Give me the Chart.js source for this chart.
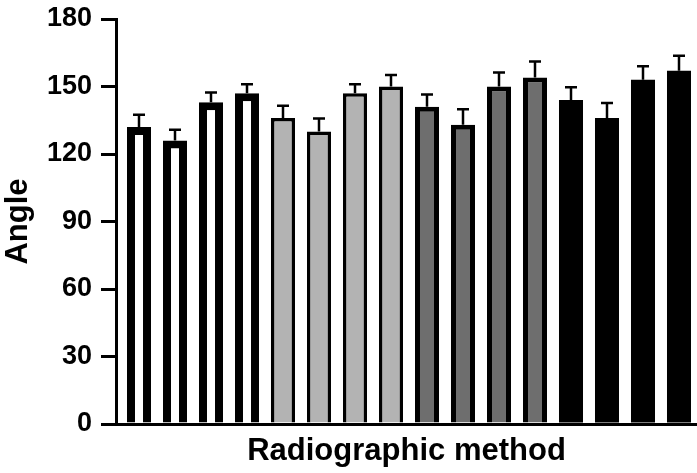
<!DOCTYPE html>
<html>
<head>
<meta charset="utf-8">
<script src="https://cdn.jsdelivr.net/npm/chart.js@4"></script>
<style>
  body { margin: 0; background: #fff; }
  #wrap { width: 697px; height: 473px; }
</style>
</head>
<body>
<div id="wrap"><canvas id="angleChart" width="697" height="473"></canvas></div>
<script>
// data
const methods = ["W1", "W2", "W3", "W4", "L1", "L2", "L3", "L4", "D1", "D2", "D3", "D4", "B1", "B2", "B3", "B4"];
const angleMeans = [132, 126, 143, 147, 136, 130, 147, 150, 141, 133, 150, 154, 144, 136, 153, 157];
const angleErrors = [5.5, 4.8, 4.3, 4, 5.5, 5.8, 4, 5.1, 5.5, 6.9, 6.2, 7.1, 5.7, 6.7, 6, 6.7];
const yTicks = [0, 30, 60, 90, 120, 150, 180];

// 4 groups of 4 bars
const groupFill = ["#ffffff", "#b3b3b3", "#6e6e6e", "#000000"];
const groupBorderW = [8, 3.5, 5, 0];

const font = "'Liberation Sans', Arial, Helvetica, sans-serif";

// upper error whiskers
const errorBars = {
  id: "errorBars",
  afterDatasetsDraw(chart) {
    const ctx = chart.ctx;
    const yScale = chart.scales.y;
    const meta = chart.getDatasetMeta(0);
    ctx.save();
    ctx.strokeStyle = "#000";
    ctx.lineWidth = 2.5;
    meta.data.forEach((bar, i) => {
      const yTop = yScale.getPixelForValue(angleMeans[i]);
      const yCap = yScale.getPixelForValue(angleMeans[i] + angleErrors[i]);
      ctx.beginPath();
      ctx.moveTo(bar.x, yTop);
      ctx.lineTo(bar.x, yCap);
      ctx.moveTo(bar.x - 6, yCap);
      ctx.lineTo(bar.x + 6, yCap);
      ctx.stroke();
    });
    ctx.restore();
  }
};

const ctx = document.getElementById("angleChart").getContext("2d");
new Chart(ctx, {
  type: "bar",
  data: {
    labels: methods,
    datasets: [
      {
        label: "Angle",
        data: angleMeans.map((v, i) => ({ x: i, y: v })),
        backgroundColor: methods.map((m, i) => groupFill[Math.floor(i / 4)]),
        borderColor: "#000",
        borderWidth: methods.map((m, i) => groupBorderW[Math.floor(i / 4)]),
        barPercentage: 0.667,
        categoryPercentage: 1,
      },
    ],
  },
  options: {
    responsive: false,
    animation: false,
    layout: { padding: { top: 19, right: 0, bottom: 0, left: 0 } },
    plugins: {
      legend: { display: false },
      tooltip: { enabled: false },
    },
    scales: {
      x: {
        type: "linear",
        offset: false,
        min: -0.639,
        max: 15.5,
        grid: { display: false },
        border: { color: "#000", width: 3 },
        ticks: { display: false },
        title: {
          display: true,
          text: "Radiographic method",
          color: "#000",
          font: { family: font, size: 31, weight: "bold" },
          padding: { top: 4, bottom: 3 },
        },
        afterFit(scale) { scale.height = 49; },
      },
      y: {
        min: 0,
        max: 180,
        afterBuildTicks(scale) { scale.ticks = yTicks.map((v) => ({ value: v })); },
        grid: {
          drawOnChartArea: false,
          color: "#000",
          lineWidth: 3,
          tickLength: 15,
        },
        border: { color: "#000", width: 3 },
        ticks: {
          color: "#000",
          padding: 9,
          font: { family: font, size: 27, weight: "bold" },
        },
        title: {
          display: true,
          text: "Angle",
          color: "#000",
          font: { family: font, size: 31, weight: "bold" },
          padding: { top: 0, bottom: 0 },
        },
        afterFit(scale) {
          scale.width = 116;
          scale.paddingTop = 0;
          scale.paddingBottom = 0;
        },
      },
    },
  },
  plugins: [errorBars],
});
</script>
</body>
</html>
